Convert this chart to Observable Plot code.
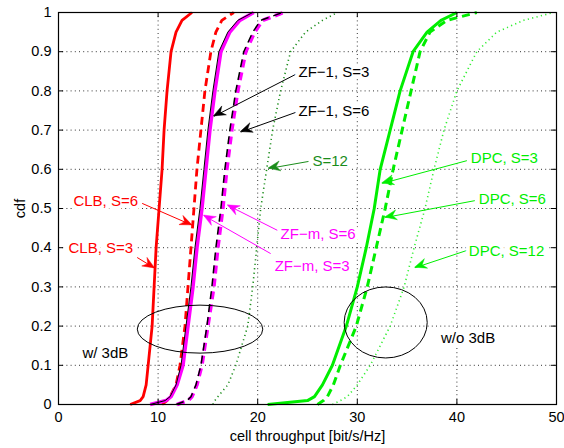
<!DOCTYPE html>
<html><head><meta charset="utf-8">
<script src="https://cdn.jsdelivr.net/npm/d3@7"></script>
<script src="https://cdn.jsdelivr.net/npm/@observablehq/plot@0.6"></script>
<style>
body{margin:0;background:#fff;}
#chart{width:564px;height:448px;}
svg{font-family:"Liberation Sans",Arial,sans-serif;}
</style></head><body><div id="chart"></div>
<script>
// ---- data ----
const cdfLevels = [0,0.01,0.02,0.05,0.1,0.2,0.3,0.4,0.5,0.6,0.7,0.8,0.9,0.95,0.98,1];
const clbS3   = [7.2,8.2,8.5,8.8,9.0,9.4,9.6,9.8,10.1,10.4,10.6,10.9,11.3,11.8,12.4,13.4];
const clbS6   = [10.4,10.9,11.2,11.8,12.2,12.7,13.0,13.3,13.6,13.9,14.3,14.7,15.3,15.8,16.4,17.6];
const zfmS3   = [9.2,10.8,11.3,11.9,12.5,13.0,13.5,13.9,14.4,14.8,15.2,15.7,16.3,17.2,18.2,19.6];
const zf1S3   = [9.2,10.7,11.2,11.8,12.3,12.8,13.3,13.7,14.2,14.6,15.0,15.5,16.1,17.0,18.0,19.5];
const zfmS6   = [11.9,13.0,13.4,13.9,14.4,15.0,15.6,16.0,16.5,16.9,17.4,18.0,18.8,19.7,20.5,22.6];
const zf1S6   = [11.8,12.9,13.3,13.8,14.3,14.9,15.4,15.8,16.3,16.7,17.2,17.8,18.6,19.5,20.3,22.5];
const zfS12   = [15.5,15.7,16.0,17.0,17.8,19.0,19.5,19.9,20.3,20.9,21.5,22.3,23.3,24.8,26.5,28.0];
const dpcS3   = [21.0,25.0,25.7,26.5,27.5,28.9,30.0,30.9,31.7,32.3,33.3,34.3,35.6,37.0,38.4,40.0];
const dpcS6   = [26.0,26.6,27.0,27.6,28.3,29.9,31.0,31.9,32.8,33.6,34.5,35.4,36.3,37.3,39.0,42.0];
const dpcS12  = [27.5,28.3,29.0,30.0,31.3,33.3,34.7,35.7,36.8,37.7,38.7,40.0,42.0,44.0,46.7,49.7];

const xTicks = [0,10,20,30,40,50];
const yTicks = [0,0.1,0.2,0.3,0.4,0.5,0.6,0.7,0.8,0.9,1];
const yTickLabels = ["0","0.1","0.2","0.3","0.4","0.5","0.6","0.7","0.8","0.9","1"];

const labelTexts = ["ZF\u22121, S=3","ZF\u22121, S=6","S=12","DPC, S=3","DPC, S=6","DPC, S=12","ZF\u2212m, S=6","ZF\u2212m, S=3","CLB, S=6","CLB, S=3","w/ 3dB","w/o 3dB"];
const labelX = [24.1,24.1,25.5,41.4,42.2,41.2,22.3,21.7,1.5,1.0,2.4,38.4];
const labelY = [0.847,0.747,0.62,0.628,0.525,0.39,0.434,0.352,0.518,0.40,0.13,0.17];
const arrowFromX = [23.8,23.8,25.1,41.0,41.8,41.0,22.0,21.3,8.4,7.9];
const arrowFromY = [0.842,0.745,0.62,0.622,0.520,0.393,0.444,0.385,0.513,0.375];
const arrowToX   = [15.6,18.3,21.1,32.5,32.8,35.8,17.0,14.6,13.45,9.7];
const arrowToY   = [0.735,0.695,0.602,0.564,0.477,0.349,0.508,0.482,0.457,0.347];

const ellipseCX = [14.26,32.9];
const ellipseCY = [0.191,0.208];
const ellipseRX = [6.3,4.17];
const ellipseRY = [0.0612,0.0906];

// ---- styles ----
const RED="#ff0000", MAG="#ff00ff", GRN="#00ee00", DGRN="#1a8c1a", BLK="#000000";
const seriesDefs = [
  {v: dpcS12, stroke:"#33ee33", w:1.6, dash:"1.2,3.3"},
  {v: zfS12, stroke:DGRN, w:1.6, dash:"1.2,3.3"},
  {v: dpcS6, stroke:GRN, w:3, dash:"8,5"},
  {v: dpcS3, stroke:GRN, w:3, dash:null},
  {v: clbS3, stroke:RED, w:2.8, dash:null},
  {v: clbS6, stroke:RED, w:2.8, dash:"8,5"},
  {v: zfmS3, stroke:MAG, w:3.6, dash:null},
  {v: zf1S3, stroke:BLK, w:1, dash:null},
  {v: zfmS6, stroke:MAG, w:3.6, dash:"8,5"},
  {v: zf1S6, stroke:BLK, w:1.5, dash:"8,5"}
];
const labelColors = [BLK,BLK,DGRN,GRN,GRN,GRN,MAG,MAG,RED,RED,BLK,BLK];

const lineMarks = seriesDefs.map(s => Plot.line(
  cdfLevels.map((c,i)=>({x:s.v[i], y:c})),
  {x:"x", y:"y", stroke:s.stroke, strokeWidth:s.w, strokeDasharray:s.dash||undefined, strokeLinejoin:"round", strokeLinecap:"butt"}
));

const labels = labelTexts.map((t,i)=>({t, x:labelX[i], y:labelY[i], c:labelColors[i]}));
const arrows = arrowFromX.map((x,i)=>({x1:x, y1:arrowFromY[i], x2:arrowToX[i], y2:arrowToY[i], c:labelColors[i]}));
const ellipses = ellipseCX.map((x,i)=>({cx:x, cy:ellipseCY[i], rx:ellipseRX[i], ry:ellipseRY[i]}));

function headsMark(index, scales) {
  const g = d3.create("svg:g");
  for (const a of arrows) {
    const x1=scales.x(a.x1), y1=scales.y(a.y1), x2=scales.x(a.x2), y2=scales.y(a.y2);
    const dx=x2-x1, dy=y2-y1, L=Math.hypot(dx,dy), ux=dx/L, uy=dy/L, nx=-uy, ny=ux;
    const len=12, wd=5, notch=8;
    const pts=[[x2,y2],[x2-len*ux+wd*nx, y2-len*uy+wd*ny],[x2-notch*ux, y2-notch*uy],[x2-len*ux-wd*nx, y2-len*uy-wd*ny]];
    g.append("path").attr("d","M"+pts.map(p=>p.join(",")).join("L")+"Z").attr("fill",a.c).attr("stroke",a.c).attr("stroke-width",0.5);
  }
  return g.node();
}
function ellipseMark(index, scales) {
  const g = d3.create("svg:g");
  for (const e of ellipses) {
    const cx=scales.x(e.cx), cy=scales.y(e.cy);
    g.append("ellipse").attr("cx",cx).attr("cy",cy)
      .attr("rx",Math.abs(scales.x(e.cx+e.rx)-cx)).attr("ry",Math.abs(scales.y(e.cy+e.ry)-cy))
      .attr("fill","none").attr("stroke","#000").attr("stroke-width",1);
  }
  return g.node();
}

const plotH = 448, mT = 12, mB = 44;
const inner = plotH - mT - mB;

const chart = Plot.plot({
  width: 564, height: plotH,
  marginLeft: 58, marginRight: 8, marginTop: mT, marginBottom: mB,
  style: {fontFamily: '"Liberation Sans", Arial, sans-serif', fontSize: "14.5px", background:"#fff", color:"#000"},
  x: {domain:[0,50]},
  y: {domain:[0,1]},
  marks: [
    Plot.gridX(xTicks.slice(1,-1), {stroke:"#000", strokeOpacity:0.8, strokeDasharray:"1,3.2", strokeWidth:1}),
    Plot.gridY(yTicks.slice(1,-1), {stroke:"#000", strokeOpacity:0.8, strokeDasharray:"1,3.2", strokeWidth:1}),
    ...lineMarks,
    ellipseMark,
    Plot.link(arrows, {x1:"x1", y1:"y1", x2:"x2", y2:"y2", stroke:"c", strokeWidth:1}),
    headsMark,
    Plot.text(labels, {x:"x", y:"y", text:"t", fill:"c", textAnchor:"start", fontSize:15, stroke:"white", strokeWidth:8, strokeLinejoin:"round", paintOrder:"stroke"}),
    Plot.tickX(xTicks, {x:d=>d, insetTop: inner-5, stroke:"#000"}),
    Plot.tickX(xTicks, {x:d=>d, insetBottom: inner-5, stroke:"#000"}),
    Plot.tickY(yTicks, {y:d=>d, insetRight: 498-5, stroke:"#000"}),
    Plot.tickY(yTicks, {y:d=>d, insetLeft: 498-5, stroke:"#000"}),
    Plot.frame({stroke:"#000", strokeWidth:1.2}),
    Plot.axisX(xTicks, {tickSize:0, tickPadding:7, fontSize:14.5, label:"cell throughput [bit/s/Hz]", labelAnchor:"center", labelArrow:"none", labelOffset:36}),
    Plot.axisY(yTicks, {tickSize:0, tickPadding:7, fontSize:14.5, tickFormat:(d,i)=>yTickLabels[i], label:"cdf", labelAnchor:"center", labelArrow:"none", labelOffset:44})
  ]
});
document.getElementById("chart").appendChild(chart);
</script></body></html>
